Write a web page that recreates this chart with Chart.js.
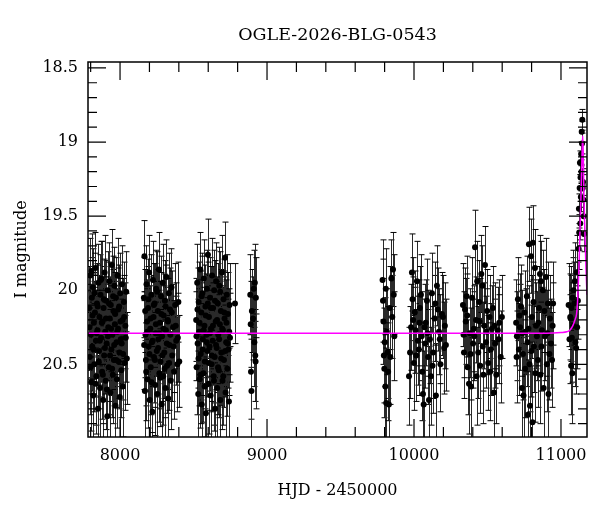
<!DOCTYPE html>
<html>
<head>
<meta charset="utf-8">
<script src="https://cdn.jsdelivr.net/npm/chart.js@4.4.1/dist/chart.umd.min.js"></script>
<style>
  html, body { margin: 0; padding: 0; background: #fff; }
  #contenedor { width: 600px; height: 512px; }
</style>
</head>
<body>
<div id="contenedor"><canvas id="curvaLuz"></canvas></div>
<script>
// fotometria OGLE: HJD-2450000, magnitud I, error
const hjd = [
  7790, 7794, 7797, 7801, 7804, 7808, 7811, 7815, 7818, 7822, 7825, 7829, 7832, 7836, 7839, 7843, 7846, 7850, 7853, 7857, 7860, 7864, 7867, 7871, 7874, 7878, 7881, 7885, 7888, 7892, 7895, 7899, 7902, 7906, 7909, 7913, 7916, 7920, 7923, 7927, 7930, 7934, 7937, 7941, 7944, 7948, 7951, 7955, 7958, 7962, 7965, 7969, 7972, 7976, 7979, 7983, 7987, 7990, 7994, 7998, 8001, 8005, 8009, 8013, 8017, 8021, 8026, 8031, 8036, 8042, 8046,
  8162, 8166, 8169, 8173, 8176, 8180, 8184, 8187, 8191, 8195, 8198, 8202, 8206, 8209, 8213, 8217, 8220, 8224, 8228, 8231, 8235, 8239, 8242, 8246, 8250, 8253, 8257, 8261, 8264, 8268, 8272, 8275, 8279, 8283, 8286, 8290, 8294, 8297, 8301, 8305, 8308, 8312, 8316, 8320, 8324, 8328, 8332, 8336, 8340, 8345, 8350, 8355, 8361, 8368, 8375, 8382, 8390, 8397, 8403,
  8518, 8521, 8525, 8528, 8532, 8535, 8539, 8542, 8546, 8549, 8553, 8556, 8560, 8563, 8567, 8570, 8574, 8577, 8581, 8584, 8588, 8591, 8595, 8598, 8602, 8605, 8609, 8612, 8616, 8619, 8623, 8626, 8630, 8633, 8637, 8640, 8644, 8647, 8651, 8654, 8658, 8661, 8665, 8668, 8672, 8675, 8679, 8682, 8686, 8689, 8693, 8697, 8700, 8704, 8707, 8711, 8714, 8718, 8722, 8726, 8730, 8734, 8738, 8741, 8745, 8748, 8782,
  8886, 8889, 8891, 8894, 8897, 8905, 8910, 8914, 8917, 8920, 8922, 8924,
  9786, 9789, 9792, 9795, 9798, 9801, 9805, 9808, 9811, 9815, 9820, 9824, 9829, 9834, 9839, 9846, 9852, 9857, 9862, 9866,
  9966, 9973, 9986, 9990, 9994, 10000, 10010, 10020, 10027, 10033, 10040, 10047, 10052, 10056, 10061, 10066, 10072, 10080, 10088, 10096, 10102, 10108, 10115, 10122, 10130, 10140, 10149, 10156, 10162, 10170, 10180, 10190, 10197, 10205, 10217,
  10333, 10340, 10347, 10352, 10358, 10365, 10374, 10380, 10388, 10395, 10402, 10410, 10415, 10422, 10430, 10437, 10443, 10450, 10458, 10465, 10472, 10478, 10483, 10490, 10498, 10505, 10514, 10522, 10530, 10537, 10544, 10552, 10560, 10570, 10580, 10590, 10598,
  10695, 10700, 10707, 10714, 10721, 10728, 10734, 10741, 10745, 10752, 10760, 10768, 10772, 10775, 10782, 10786, 10789, 10796, 10802, 10806, 10809, 10816, 10823, 10830, 10836, 10843, 10850, 10857, 10860, 10864, 10870, 10877, 10882, 10891, 10898, 10904, 10911, 10915, 10925, 10932, 10939, 10946,
  11052, 11058, 11063, 11066, 11069, 11071, 11074, 11077, 11079, 11082, 11085, 11090, 11094, 11098, 11103, 11106, 11110, 11115, 11120, 11122, 11124, 11127, 11129, 11131, 11133, 11135, 11137, 11139, 11141, 11143, 11145, 11148, 11150, 11152, 11154, 11156,
  7792, 7799, 7806, 7813, 7820, 7827, 7834, 7841, 7848, 7855, 7862, 7869, 7876, 7883, 7890, 7897, 7904, 7911, 7918, 7925, 7932, 7939, 7946, 7953, 7960, 7967, 7974, 7981, 7988, 7996, 8003, 8011, 8019, 8028, 8039,
  8164, 8171, 8178, 8186, 8193, 8200, 8208, 8215, 8222, 8230, 8237, 8244, 8252, 8259, 8266, 8274, 8281, 8288, 8296, 8303, 8310, 8318, 8326, 8334, 8342, 8352, 8364, 8379, 8393,
  8520, 8527, 8534, 8541, 8548, 8555, 8562, 8569, 8576, 8583, 8590, 8597, 8604, 8611, 8618, 8625, 8632, 8639, 8646, 8653, 8660, 8667, 8674, 8681, 8688, 8695, 8702, 8709, 8716, 8724, 8732, 8743,
  9980, 10005, 10015, 10037, 10076, 10092, 10126, 10145, 10175, 10210,
  10337, 10362, 10385, 10407, 10426, 10447, 10468, 10494, 10518, 10548, 10575,
  10698, 10718, 10737, 10756, 10779, 10799, 10813, 10826, 10846, 10867, 10887, 10908, 10921, 10943
];
const mag = [
  20.12, 20.45, 19.90, 20.30, 20.62, 20.05, 20.38, 19.98, 20.71, 20.22, 20.50, 20.15, 19.85, 20.34, 20.58, 20.09, 20.27, 20.80, 19.95, 20.41, 20.18, 20.66, 20.03, 20.32, 19.92, 20.55, 20.21, 20.74, 20.12, 20.44, 19.88, 20.28, 20.61, 20.07, 20.36, 20.85, 20.00, 20.25, 20.52, 19.94, 20.19, 20.69, 20.10, 20.40, 19.83, 20.30, 20.57, 20.14, 20.47, 19.97, 20.23, 20.78, 20.05, 20.35, 20.60, 19.90, 20.26, 20.48, 20.11, 20.72, 20.02, 20.33, 20.54, 19.96, 20.20, 20.43, 20.08, 20.49, 20.24, 20.01, 20.46,
  20.05, 19.77, 20.68, 20.30, 20.47, 19.96, 20.21, 20.60, 20.12, 20.38, 19.88, 20.74, 20.26, 20.52, 20.03, 20.35, 20.82, 19.93, 20.18, 20.45, 20.09, 20.64, 20.29, 19.99, 20.41, 20.70, 20.14, 20.33, 19.86, 20.56, 20.22, 20.48, 20.04, 20.77, 20.31, 19.95, 20.58, 20.17, 20.42, 20.07, 20.66, 20.27, 19.91, 20.51, 20.20, 20.73, 20.02, 20.37, 20.13, 20.61, 19.98, 20.44, 20.25, 20.55, 20.10, 20.34, 20.50, 20.08, 20.48,
  20.20, 20.52, 19.95, 20.36, 20.70, 20.08, 20.28, 20.60, 19.86, 20.43, 20.15, 20.77, 20.02, 20.33, 20.56, 19.92, 20.24, 20.48, 20.11, 20.83, 20.30, 19.99, 20.41, 19.76, 20.63, 20.18, 20.38, 20.05, 20.71, 20.26, 20.50, 19.90, 20.34, 20.12, 20.58, 20.00, 20.45, 20.80, 20.21, 19.94, 20.39, 20.66, 20.09, 20.30, 20.54, 19.97, 20.23, 20.74, 20.14, 20.42, 19.88, 20.61, 20.27, 20.06, 20.47, 20.19, 19.78, 20.69, 20.35, 20.03, 20.53, 20.16, 20.40, 20.75, 20.10, 20.32, 20.09,
  20.03, 20.23, 20.55, 20.68, 20.14, 20.19, 19.99, 20.35, 19.95, 20.44, 20.48, 20.05,
  19.93, 20.07, 20.21, 20.44, 20.53, 20.35, 20.65, 19.99, 20.76, 20.28, 20.42, 20.55, 20.77, 20.12, 20.45, 19.92, 20.18, 19.86, 20.03, 20.31,
  20.58, 20.42, 19.88, 20.06, 20.20, 20.49, 20.27, 19.94, 20.34, 20.40, 20.12, 20.03, 20.31, 20.55, 20.70, 20.77, 20.25, 20.22, 20.07, 20.45, 20.74, 20.33, 20.58, 20.02, 20.42, 20.19, 20.71, 19.97, 20.13, 20.28, 20.50, 20.16, 20.18, 20.39, 20.37,
  20.10, 20.42, 20.13, 20.21, 20.04, 20.52, 20.63, 20.29, 20.65, 20.05, 20.36, 20.31, 19.71, 20.20, 19.94, 20.42, 20.08, 20.51, 19.89, 19.97, 20.57, 20.24, 19.83, 20.35, 20.14, 20.49, 20.18, 20.40, 20.26, 20.12, 20.69, 20.36, 20.57, 20.27, 20.22, 20.45, 20.18,
  20.22, 20.31, 20.06, 20.40, 20.25, 20.11, 20.66, 20.43, 20.71, 20.15, 20.28, 20.04, 20.35, 20.84, 19.69, 20.50, 20.78, 19.77, 20.18, 20.89, 19.68, 20.38, 19.85, 20.24, 20.31, 20.47, 20.12, 19.89, 20.57, 19.94, 20.27, 20.00, 20.66, 20.31, 19.91, 20.50, 20.09, 20.70, 20.19, 20.36, 20.47, 20.09,
  20.10, 20.33, 20.18, 20.19, 20.51, 20.12, 20.32, 20.56, 20.05, 20.24, 20.00, 20.09, 19.94, 20.35, 20.39, 19.88, 20.25, 20.07, 19.72, 19.45, 19.61, 19.31, 19.14, 19.55, 19.24, 19.37, 19.08, 19.20, 18.93, 19.01, 18.85, 19.31, 19.27, 19.39, 19.50, 19.62,
  20.25, 20.52, 19.87, 20.17, 20.40, 20.02, 20.63, 20.29, 20.11, 20.48, 20.34, 19.93, 20.22, 20.57, 20.06, 20.39, 20.19, 20.67, 20.31, 20.09, 20.44, 20.26, 20.53, 20.04, 20.37, 20.16, 20.47, 20.28, 20.13, 20.42, 20.21, 20.36, 20.65, 20.18, 20.32,
  20.37, 20.14, 20.55, 20.28, 20.06, 20.43, 20.19, 20.62, 20.34, 20.10, 20.47, 20.23, 20.01, 20.39, 20.29, 20.59, 20.16, 20.44, 20.26, 20.53, 20.11, 20.36, 20.21, 20.49, 20.30, 20.15, 20.38, 20.24, 20.32,
  20.31, 20.13, 20.46, 20.22, 20.57, 20.04, 20.40, 20.27, 20.65, 20.17, 20.35, 20.09, 20.49, 20.29, 20.12, 20.44, 20.24, 20.61, 20.07, 20.37, 20.20, 20.52, 20.33, 20.01, 20.46, 20.26, 20.58, 20.15, 20.41, 20.22, 20.36, 20.28,
  20.25, 20.15, 20.44, 20.22, 20.36, 20.29, 20.51, 20.09, 20.33, 20.24,
  20.30, 20.17, 20.43, 20.26, 20.58, 20.21, 20.38, 20.28, 20.55, 20.24, 20.33,
  20.45, 20.17, 20.29, 20.53, 20.26, 20.41, 20.08, 20.56, 20.22, 20.38, 20.14, 20.29, 20.43, 20.24
];
const err = [
  0.28, 0.31, 0.25, 0.29, 0.33, 0.27, 0.30, 0.26, 0.35, 0.28, 0.32, 0.27, 0.24, 0.30, 0.33, 0.27, 0.29, 0.36, 0.26, 0.31, 0.28, 0.34, 0.27, 0.30, 0.25, 0.32, 0.28, 0.35, 0.28, 0.31, 0.25, 0.29, 0.33, 0.27, 0.30, 0.37, 0.26, 0.29, 0.32, 0.26, 0.28, 0.34, 0.28, 0.31, 0.24, 0.29, 0.33, 0.28, 0.31, 0.26, 0.29, 0.36, 0.27, 0.30, 0.33, 0.25, 0.29, 0.32, 0.28, 0.35, 0.27, 0.30, 0.32, 0.26, 0.28, 0.31, 0.27, 0.32, 0.29, 0.27, 0.31,
  0.27, 0.24, 0.34, 0.29, 0.31, 0.26, 0.28, 0.33, 0.28, 0.30, 0.25, 0.35, 0.29, 0.32, 0.27, 0.30, 0.37, 0.26, 0.28, 0.31, 0.27, 0.34, 0.29, 0.26, 0.31, 0.35, 0.28, 0.30, 0.25, 0.33, 0.28, 0.32, 0.27, 0.36, 0.29, 0.26, 0.33, 0.28, 0.31, 0.27, 0.34, 0.29, 0.25, 0.32, 0.28, 0.35, 0.27, 0.30, 0.28, 0.33, 0.26, 0.31, 0.29, 0.32, 0.28, 0.30, 0.32, 0.27, 0.31,
  0.28, 0.32, 0.26, 0.30, 0.35, 0.27, 0.29, 0.33, 0.25, 0.31, 0.28, 0.36, 0.27, 0.30, 0.33, 0.26, 0.29, 0.32, 0.28, 0.37, 0.29, 0.26, 0.31, 0.24, 0.34, 0.28, 0.30, 0.27, 0.35, 0.29, 0.32, 0.25, 0.30, 0.28, 0.33, 0.27, 0.31, 0.37, 0.28, 0.26, 0.30, 0.34, 0.27, 0.29, 0.32, 0.26, 0.29, 0.35, 0.28, 0.31, 0.25, 0.33, 0.29, 0.27, 0.32, 0.28, 0.24, 0.35, 0.30, 0.27, 0.32, 0.28, 0.31, 0.36, 0.28, 0.30, 0.27,
  0.27, 0.29, 0.32, 0.35, 0.28, 0.28, 0.26, 0.30, 0.26, 0.31, 0.32, 0.27,
  0.27, 0.28, 0.29, 0.32, 0.33, 0.30, 0.35, 0.27, 0.37, 0.29, 0.31, 0.33, 0.37, 0.28, 0.32, 0.26, 0.28, 0.25, 0.27, 0.30,
  0.33, 0.31, 0.26, 0.28, 0.29, 0.32, 0.29, 0.27, 0.30, 0.31, 0.28, 0.27, 0.30, 0.33, 0.35, 0.36, 0.29, 0.29, 0.28, 0.32, 0.36, 0.30, 0.33, 0.27, 0.31, 0.29, 0.35, 0.27, 0.28, 0.29, 0.32, 0.28, 0.28, 0.31, 0.31,
  0.28, 0.31, 0.28, 0.29, 0.27, 0.32, 0.34, 0.30, 0.35, 0.27, 0.30, 0.30, 0.25, 0.29, 0.27, 0.31, 0.28, 0.32, 0.26, 0.27, 0.33, 0.29, 0.26, 0.31, 0.28, 0.32, 0.28, 0.31, 0.29, 0.28, 0.35, 0.30, 0.33, 0.29, 0.29, 0.31, 0.28,
  0.29, 0.30, 0.28, 0.31, 0.29, 0.28, 0.34, 0.31, 0.35, 0.28, 0.29, 0.27, 0.30, 0.37, 0.25, 0.32, 0.36, 0.25, 0.28, 0.38, 0.25, 0.31, 0.26, 0.29, 0.30, 0.32, 0.28, 0.26, 0.33, 0.27, 0.29, 0.27, 0.34, 0.30, 0.26, 0.32, 0.28, 0.35, 0.29, 0.30, 0.32, 0.28,
  0.28, 0.30, 0.29, 0.29, 0.33, 0.28, 0.30, 0.34, 0.27, 0.29, 0.27, 0.28, 0.26, 0.30, 0.31, 0.25, 0.28, 0.26, 0.14, 0.10, 0.12, 0.09, 0.08, 0.11, 0.09, 0.10, 0.08, 0.08, 0.07, 0.07, 0.07, 0.09, 0.09, 0.10, 0.11, 0.12,
  0.29, 0.32, 0.25, 0.28, 0.31, 0.27, 0.34, 0.29, 0.28, 0.32, 0.30, 0.26, 0.29, 0.33, 0.27, 0.31, 0.28, 0.35, 0.30, 0.28, 0.31, 0.29, 0.33, 0.27, 0.30, 0.28, 0.32, 0.29, 0.28, 0.31, 0.29, 0.30, 0.34, 0.28, 0.30,
  0.30, 0.28, 0.33, 0.29, 0.27, 0.31, 0.28, 0.34, 0.30, 0.28, 0.32, 0.29, 0.27, 0.31, 0.29, 0.33, 0.28, 0.31, 0.29, 0.33, 0.28, 0.30, 0.29, 0.32, 0.30, 0.28, 0.31, 0.29, 0.30,
  0.30, 0.28, 0.32, 0.29, 0.33, 0.27, 0.31, 0.29, 0.34, 0.28, 0.30, 0.28, 0.32, 0.29, 0.28, 0.31, 0.29, 0.34, 0.27, 0.30, 0.29, 0.32, 0.30, 0.27, 0.32, 0.29, 0.33, 0.28, 0.31, 0.29, 0.30, 0.29,
  0.29, 0.28, 0.31, 0.29, 0.30, 0.29, 0.32, 0.28, 0.30, 0.29,
  0.29, 0.28, 0.31, 0.29, 0.33, 0.29, 0.30, 0.29, 0.33, 0.29, 0.30,
  0.31, 0.28, 0.29, 0.33, 0.29, 0.31, 0.27, 0.33, 0.29, 0.30, 0.28, 0.29, 0.31, 0.29
];

// modelo
const modeloHjd = [7782, 10900, 11000, 11040, 11060, 11080, 11095, 11106, 11112, 11117, 11123, 11129, 11135, 11141, 11145, 11148, 11152, 11156, 11163, 11170, 11177];
const modeloMag = [20.29, 20.29, 20.285, 20.28, 20.27, 20.24, 20.20, 20.16, 20.09, 19.98, 19.82, 19.61, 19.40, 19.17, 19.02, 18.96, 19.12, 19.35, 19.61, 19.85, 20.03];

const titulo = 'OGLE-2026-BLG-0543';
const xMayores = [8000, 9000, 10000, 11000];
const xEtiquetas = ['8000', '9000', '10000', '11000'];
const xMenores = [7800, 8200, 8400, 8600, 8800, 9200, 9400, 9600, 9800, 10200, 10400, 10600, 10800, 11000];
const yMayores = [18.5, 19, 19.5, 20, 20.5];
const yEtiquetas = ['18.5', '19', '19.5', '20', '20.5'];
const yMenores = [18.6, 18.7, 18.8, 18.9, 19.1, 19.2, 19.3, 19.4, 19.6, 19.7, 19.8, 19.9, 20.1, 20.2, 20.3, 20.4, 20.6, 20.7, 20.8, 20.9];

const fuente = 'DejaVu Serif';

const barrasError = {
    id: 'barrasError',
    beforeDatasetsDraw(chart) {
        const { ctx, chartArea: a, scales: { x, y } } = chart;
        ctx.save();
        ctx.beginPath();
        ctx.rect(a.left, a.top, a.right - a.left, a.bottom - a.top);
        ctx.clip();
        ctx.lineWidth = 1;
        for (let i = 0; i < hjd.length; i++) {
            const px = Math.round(x.getPixelForValue(hjd[i])) + 0.5;
            const y1 = y.getPixelForValue(mag[i] - err[i]);
            const y2 = y.getPixelForValue(mag[i] + err[i]);
            ctx.strokeStyle = '#2a2a2a';
            ctx.beginPath();
            ctx.moveTo(px, y1);
            ctx.lineTo(px, y2);
            ctx.stroke();
            ctx.strokeStyle = '#000';
            ctx.beginPath();
            ctx.moveTo(px - 3, y1); ctx.lineTo(px + 3, y1);
            ctx.moveTo(px - 3, y2); ctx.lineTo(px + 3, y2);
            ctx.stroke();
        }
        ctx.restore();
    }
};

const marco = {
    id: 'marco',
    afterDraw(chart) {
        const { ctx, chartArea: a, scales: { x, y } } = chart;
        ctx.save();
        ctx.strokeStyle = '#000';
        ctx.lineWidth = 1.2;
        const marcaX = (v, largo) => {
            const px = x.getPixelForValue(v);
            ctx.moveTo(px, a.bottom); ctx.lineTo(px, a.bottom - largo);
            ctx.moveTo(px, a.top); ctx.lineTo(px, a.top + largo);
        };
        const marcaY = (v, largo) => {
            const py = y.getPixelForValue(v);
            ctx.moveTo(a.left, py); ctx.lineTo(a.left + largo, py);
            ctx.moveTo(a.right, py); ctx.lineTo(a.right - largo, py);
        };
        ctx.beginPath();
        xMayores.forEach(v => marcaX(v, 18));
        xMenores.forEach(v => marcaX(v, 10));
        yMayores.forEach(v => marcaY(v, 18));
        yMenores.forEach(v => marcaY(v, 9));
        ctx.stroke();
        ctx.lineWidth = 1.5;
        ctx.strokeRect(a.left, a.top, a.right - a.left, a.bottom - a.top);

        // titulo centrado sobre el area del grafico
        ctx.fillStyle = '#000';
        ctx.font = '17.5px "' + fuente + '"';
        ctx.textAlign = 'center';
        ctx.textBaseline = 'middle';
        ctx.fillText(titulo, (a.left + a.right) / 2, 35);
        ctx.restore();
    }
};

const ctx = document.getElementById('curvaLuz').getContext('2d');
new Chart(ctx, {
    type: 'scatter',
    data: {
        datasets: [
            {
                label: 'OGLE I',
                data: hjd.map((v, i) => ({ x: v, y: mag[i] })),
                pointRadius: 3,
                pointBackgroundColor: '#000',
                pointBorderWidth: 0,
                order: 1
            },
            {
                label: 'modelo',
                data: modeloHjd.map((v, i) => ({ x: v, y: modeloMag[i] })),
                showLine: true,
                borderColor: '#ff00ff',
                borderWidth: 1.5,
                pointRadius: 0,
                cubicInterpolationMode: 'monotone',
                order: 0
            }
        ]
    },
    options: {
        responsive: true,
        maintainAspectRatio: false,
        animation: false,
        layout: { padding: { left: 0, right: 13, top: 62, bottom: 0 } },
        plugins: {
            legend: { display: false },
            tooltip: { enabled: false },
            title: { display: false }
        },
        scales: {
            x: {
                type: 'linear',
                min: 7782,
                max: 11177,
                afterBuildTicks: s => { s.ticks = xMayores.map(v => ({ value: v })); },
                afterFit: s => { s.height = 75; },
                grid: { display: false, drawTicks: false },
                border: { display: false },
                ticks: {
                    callback: (v, i) => xEtiquetas[i],
                    color: '#000',
                    font: { family: fuente, size: 16 },
                    padding: 9,
                    maxRotation: 0,
                    autoSkip: false
                },
                title: {
                    display: true,
                    text: 'HJD - 2450000',
                    color: '#000',
                    font: { family: fuente, size: 16 },
                    padding: { top: 0, bottom: 12 }
                }
            },
            y: {
                type: 'linear',
                reverse: true,
                min: 18.46,
                max: 20.99,
                afterBuildTicks: s => { s.ticks = yMayores.map(v => ({ value: v })); },
                afterFit: s => { s.width = 88; },
                grid: { display: false, drawTicks: false },
                border: { display: false },
                ticks: {
                    callback: (v, i) => yEtiquetas[i],
                    color: '#000',
                    font: { family: fuente, size: 16 },
                    padding: 10,
                    autoSkip: false
                },
                title: {
                    display: true,
                    text: 'I magnitude',
                    color: '#000',
                    font: { family: fuente, size: 16 },
                    padding: { top: 12, bottom: 0 }
                }
            }
        }
    },
    plugins: [barrasError, marco]
});
</script>
</body>
</html>
